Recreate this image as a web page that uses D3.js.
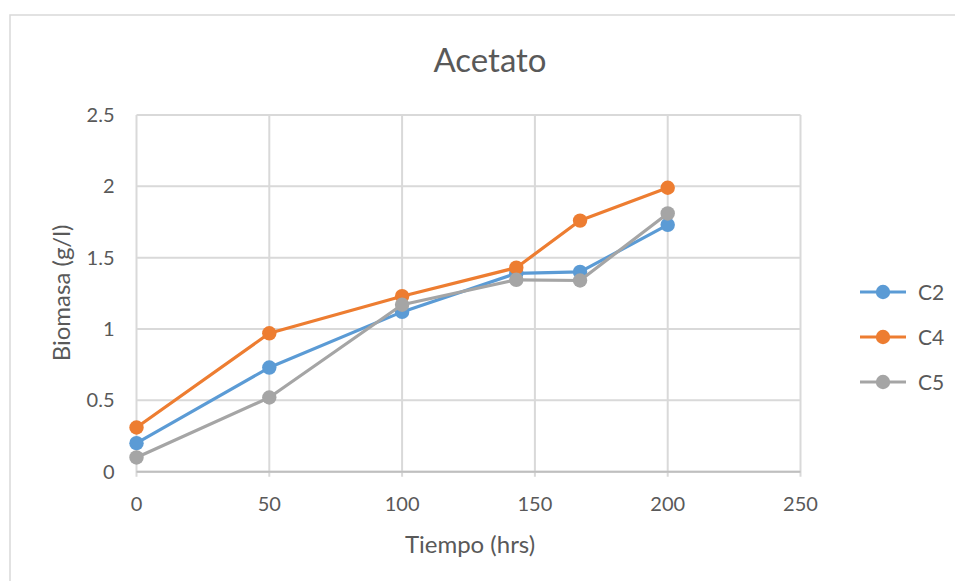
<!DOCTYPE html>
<html>
<head>
<meta charset="utf-8">
<script src="https://cdn.jsdelivr.net/npm/d3@7"></script>
<style>
  body { margin: 0; background: #fff; }
  text { font-family: Lato, "Open Sans", sans-serif; }
</style>
</head>
<body>
<script>
// data
const tiempo = [0, 50, 100, 143, 167, 200];
const c2 = [0.20, 0.73, 1.12, 1.39, 1.40, 1.73];
const c4 = [0.31, 0.97, 1.23, 1.43, 1.76, 1.99];
const c5 = [0.10, 0.52, 1.17, 1.345, 1.34, 1.81];
const seriesNames = ["C2", "C4", "C5"];
const seriesColors = ["#5B9BD5", "#ED7D31", "#A5A5A5"];
const xTicks = [0, 50, 100, 150, 200, 250];
const yTicks = [0, 0.5, 1, 1.5, 2, 2.5];

const width = 955, height = 581;
const svg = d3.select("body").append("svg")
  .attr("width", width)
  .attr("height", height);

// chart frame
svg.append("rect")
  .attr("x", 10).attr("y", 15)
  .attr("width", 960).attr("height", 600)
  .attr("fill", "#fff")
  .attr("stroke", "#d9d9d9")
  .attr("stroke-width", 1.5);

const plot = { left: 136.5, right: 800.5, top: 115, bottom: 471.7 };

const x = d3.scaleLinear().domain([0, 250]).range([plot.left, plot.right]);
const y = d3.scaleLinear().domain([0, 2.5]).range([plot.bottom, plot.top]);

// grid
svg.append("g")
  .selectAll("line")
  .data(yTicks)
  .join("line")
  .attr("x1", plot.left).attr("x2", plot.right)
  .attr("y1", d => y(d)).attr("y2", d => y(d))
  .attr("stroke", "#d9d9d9").attr("stroke-width", 2);

svg.append("g")
  .selectAll("line")
  .data(xTicks)
  .join("line")
  .attr("x1", d => x(d)).attr("x2", d => x(d))
  .attr("y1", plot.top).attr("y2", plot.bottom + 5)
  .attr("stroke", "#d9d9d9").attr("stroke-width", 2);

// axis line
svg.append("line")
  .attr("x1", plot.left).attr("x2", plot.right)
  .attr("y1", plot.bottom).attr("y2", plot.bottom)
  .attr("stroke", "#bfbfbf").attr("stroke-width", 2);

// tick labels
svg.append("g")
  .selectAll("text")
  .data(yTicks)
  .join("text")
  .attr("x", plot.left - 22)
  .attr("y", d => y(d) + 7)
  .attr("text-anchor", "end")
  .attr("fill", "#595959")
  .attr("font-size", 20)
  .text(d => d);

svg.append("g")
  .selectAll("text")
  .data(xTicks)
  .join("text")
  .attr("x", d => x(d))
  .attr("y", 511)
  .attr("text-anchor", "middle")
  .attr("fill", "#595959")
  .attr("font-size", 20)
  .text(d => d);

// titles
svg.append("text")
  .attr("x", 490).attr("y", 72)
  .attr("text-anchor", "middle")
  .attr("fill", "#595959")
  .attr("font-size", 33)
  .text("Acetato");

svg.append("text")
  .attr("x", 470).attr("y", 553)
  .attr("text-anchor", "middle")
  .attr("fill", "#595959")
  .attr("font-size", 24)
  .text("Tiempo (hrs)");

svg.append("text")
  .attr("transform", "translate(70,293) rotate(-90)")
  .attr("text-anchor", "middle")
  .attr("fill", "#595959")
  .attr("font-size", 24)
  .text("Biomasa (g/l)");

// series
const series = [c2, c4, c5].map((vals, i) => ({
  name: seriesNames[i],
  color: seriesColors[i],
  points: vals.map((v, j) => ({ t: tiempo[j], v: v }))
}));

const line = d3.line().x(d => x(d.t)).y(d => y(d.v));

series.forEach(s => {
  const g = svg.append("g");
  g.append("path")
    .datum(s.points)
    .attr("d", line)
    .attr("fill", "none")
    .attr("stroke", s.color)
    .attr("stroke-width", 3.2)
    .attr("stroke-linejoin", "round");
  g.selectAll("circle")
    .data(s.points)
    .join("circle")
    .attr("cx", d => x(d.t))
    .attr("cy", d => y(d.v))
    .attr("r", 7.2)
    .attr("fill", s.color);
});

// legend
const legend = svg.append("g")
  .selectAll("g")
  .data(series)
  .join("g")
  .attr("transform", (d, i) => `translate(0,${292 + i * 45})`);

legend.append("line")
  .attr("x1", 860).attr("x2", 906)
  .attr("stroke", d => d.color)
  .attr("stroke-width", 3.2);
legend.append("circle")
  .attr("cx", 883).attr("r", 7.2)
  .attr("fill", d => d.color);
legend.append("text")
  .attr("x", 918).attr("y", 8)
  .attr("fill", "#595959")
  .attr("font-size", 21)
  .text(d => d.name);
</script>
</body>
</html>
